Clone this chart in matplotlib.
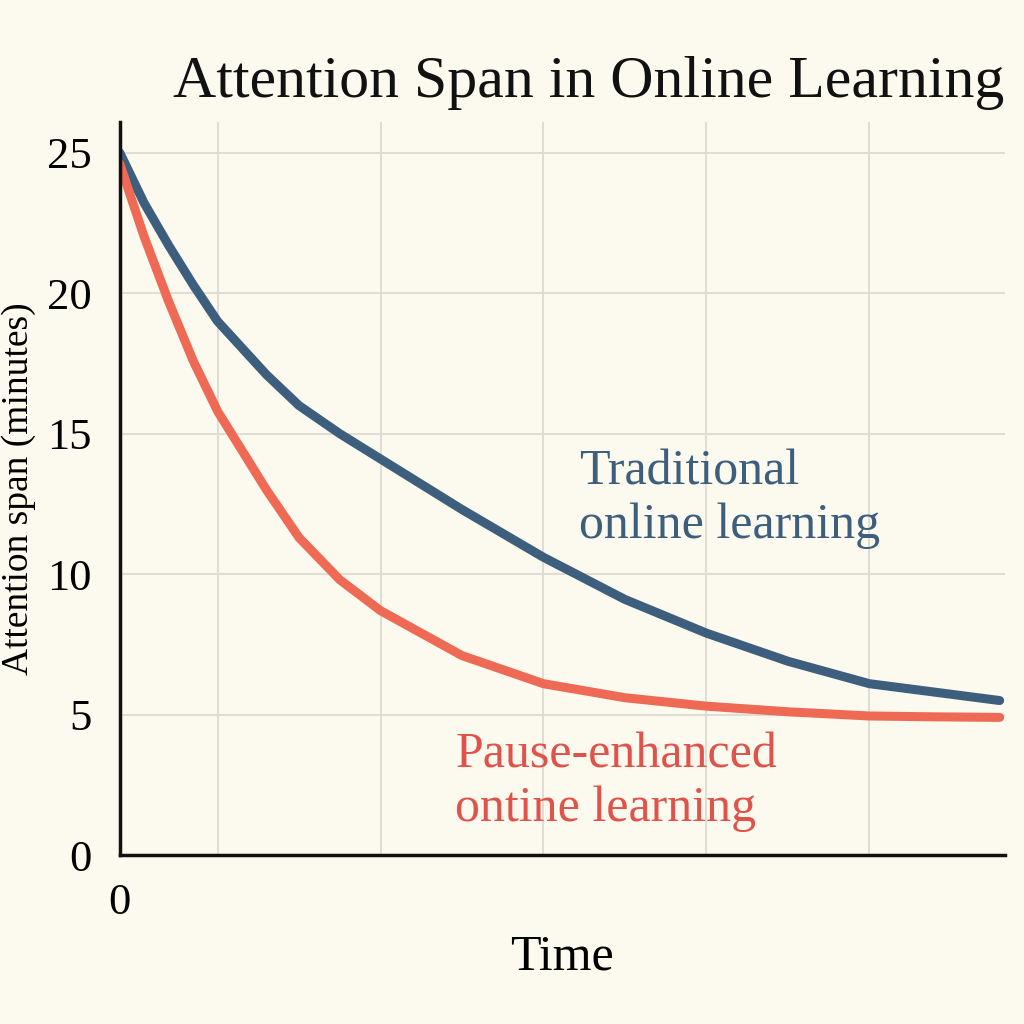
import matplotlib
matplotlib.use("Agg")
import matplotlib.pyplot as plt

time_points = [0, 1.5, 3, 4.5, 6, 9, 11, 13.5, 16, 21, 26, 31, 36, 41, 46, 50, 54]
traditional = [25.0, 23.2, 21.7, 20.3, 19.0, 17.1, 16.0, 15.0, 14.1, 12.3, 10.6, 9.1, 7.9, 6.9, 6.1, 5.8, 5.5]
pause = [24.6, 22.0, 19.7, 17.6, 15.8, 13.0, 11.3, 9.8, 8.7, 7.1, 6.1, 5.6, 5.3, 5.1, 4.95, 4.92, 4.9]
y_ticks = [0, 5, 10, 15, 20, 25]
grid_x = [6, 16, 26, 36, 46]

bg = "#fcf9ef"
blue = "#3d5f7d"
red = "#ef6a55"
plt.rcParams["font.family"] = "Liberation Serif"

fig = plt.figure(figsize=(10.24, 10.24), dpi=100, facecolor=bg)
ax = fig.add_axes([0.117, 0.165, 0.864, 0.716], facecolor=bg)

ax.plot(time_points, traditional, color=blue, lw=6.5, solid_capstyle="round", solid_joinstyle="round")
ax.plot(time_points, pause, color=red, lw=6.5, solid_capstyle="round", solid_joinstyle="round")

ax.set_xlim(0, 54.3)
ax.set_ylim(0, 26.1)
for gx in grid_x:
    ax.axvline(gx, color="#dddbd3", lw=1.3, zorder=0)
for gy in y_ticks[1:]:
    ax.axhline(gy, color="#dddbd3", lw=1.3, zorder=0)

ax.set_yticks(y_ticks)
ax.set_yticklabels([str(v) for v in y_ticks], fontsize=32)
ax.set_xticks([0])
ax.set_xticklabels(["0"], fontsize=32)
ax.tick_params(length=0, pad=20)
for s in ["top", "right"]:
    ax.spines[s].set_visible(False)
for s in ["left", "bottom"]:
    ax.spines[s].set_linewidth(2.5)
    ax.spines[s].set_color("#111111")

ax.set_xlabel("Time", fontsize=36, labelpad=8)
ax.set_ylabel("Attention span (minutes)", fontsize=27, labelpad=8)
fig.text(0.575, 0.905, "Attention Span in Online Learning", fontsize=43, ha="center", color="#111111")

ax.text(28.2, 11.3, "Traditional\nonline learning", color=blue, fontsize=36, linespacing=1.2)
ax.text(20.6, 1.2, "Pause-enhanced\nontine learning", color="#e0534a", fontsize=36, linespacing=1.2)

fig.savefig("out.png", dpi=100, facecolor=bg)
